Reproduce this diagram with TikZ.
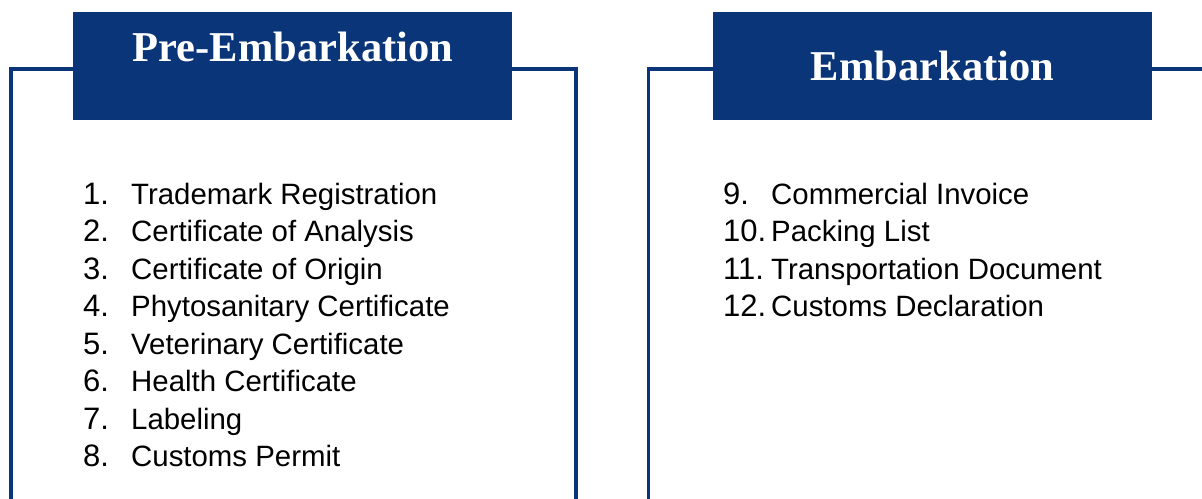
\documentclass[tikz,border=0pt]{standalone}
\usepackage{fontspec}
\setmainfont{Liberation Serif}
\newfontfamily\arial{Liberation Sans}
\usepackage{tikz}

\definecolor{navy}{RGB}{10,54,121}

\tikzset{
  frame/.style={draw=navy, line width=3.6pt},
  header/.style={fill=navy, draw=none, inner sep=0pt},
  headtext/.style={text=white, anchor=base, font=\fontsize{42.5}{50}\selectfont\bfseries},
  num/.style={anchor=base west, inner sep=0pt, font=\arial\fontsize{31}{37}\selectfont},
  item/.style={anchor=base west, inner sep=0pt, font=\arial\fontsize{29.4}{35}\selectfont}
}

\begin{document}
\begin{tikzpicture}[x=1pt,y=-1pt]
\useasboundingbox (0,0) rectangle (1202,498);

% left panel
\draw[frame] (11,500) -- (11,69) -- (576,69) -- (576,500);
\node[header, minimum width=439pt, minimum height=108pt] (prebox) at (292.5,66) {};
\node[headtext] (pretitle) at (293,61) {Pre-Embarkation};

% right panel
\draw[frame] (648.5,500) -- (648.5,69) -- (1204,69);
\node[header, minimum width=439pt, minimum height=108pt] (embox) at (932.5,66) {};
\node[headtext] (emtitle) at (932.5,80) {Embarkation};

% documents before embarkation
\foreach \n/\txt [count=\i from 0] in {1/Trademark Registration, 2/Certificate of Analysis,
    3/Certificate of Origin, 4/Phytosanitary Certificate, 5/Veterinary Certificate,
    6/Health Certificate, 7/Labeling, 8/Customs Permit}{
  \node[num] (num\n) at (83,204+37.5*\i) {\n.};
  \node[item] (doc\n) at (131,204+37.5*\i) {\txt};
}

% documents at embarkation
\foreach \n/\txt [count=\i from 0] in {9/Commercial Invoice, 10/Packing List,
    11/Transportation Document, 12/Customs Declaration}{
  \node[num] (num\n) at (723,204+37.5*\i) {\n.};
  \node[item] (doc\n) at (771,204+37.5*\i) {\txt};
}
\end{tikzpicture}
\end{document}
